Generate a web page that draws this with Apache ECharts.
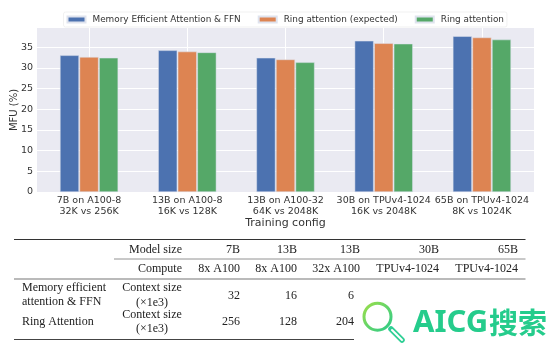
<!DOCTYPE html>
<html>
<head>
<meta charset="utf-8">
<style>
html, body { margin: 0; padding: 0; background: #fff; }
#container { width: 554px; height: 355px; }
</style>
<script src="https://cdn.jsdelivr.net/npm/echarts@6/dist/echarts.min.js"></script>
</head>
<body>
<div id="container"></div>
<script>
let chart = echarts.init(document.getElementById('container'), null, {renderer: 'canvas'});

// chart data
var configs = ['7B on A100-8\n32K vs 256K', '13B on A100-8\n16K vs 128K', '13B on A100-32\n64K vs 2048K',
    '30B on TPUv4-1024\n16K vs 2048K', '65B on TPUv4-1024\n8K vs 1024K'];
var memoryEfficient = [33.0, 34.2, 32.4, 36.5, 37.6];
var ringExpected = [32.6, 33.9, 32.0, 35.9, 37.3];
var ringAttention = [32.4, 33.7, 31.3, 35.8, 36.8];
var yTicks = [0, 5, 10, 15, 20, 25, 30, 35];

// table under the chart
var modelSizes = ['7B', '13B', '13B', '30B', '65B'];
var computes = ['8x A100', '8x A100', '32x A100', 'TPUv4-1024', 'TPUv4-1024'];
var contextMemory = ['32', '16', '6'];
var contextRing = ['256', '128', '204'];

var sansFont = '"DejaVu Sans", sans-serif';
var serifFont = '"Liberation Serif", serif';
var textColor = '#333';
var columnRight = [240, 297, 360, 439, 518];

function withIndex(values) {
    return values.map((v, i) => [i, v]);
}

function makeSeries(name, values, color) {
    return {
        type: 'bar',
        name: name,
        data: withIndex(values),
        barWidth: 19,
        barGap: '3%',
        animation: false,
        itemStyle: {color: color, borderColor: '#dfe3ee', borderWidth: 0.5},
    };
}

function cell(text, x, y, align) {
    return {
        type: 'text',
        x: x,
        y: y,
        style: {
            text: text,
            align: align || 'right',
            verticalAlign: 'middle',
            fontFamily: serifFont,
            fontSize: 12,
            fill: '#222',
        },
    };
}

function rule(x1, x2, y, width, color) {
    return {
        type: 'line',
        shape: {x1: x1, y1: y, x2: x2, y2: y},
        style: {stroke: color, lineWidth: width},
    };
}

function tableGraphics() {
    var items = [
        rule(14, 525.5, 239.5, 1.2, '#333'),
        rule(114, 525.5, 259, 0.8, '#777'),
        rule(14, 525.5, 279, 1.2, '#777'),
        rule(14, 354, 339.5, 1.2, '#444'),
        cell('Model size', 182, 249.5),
        cell('Compute', 182, 268.7),
        cell('Memory efficient', 22, 288, 'left'),
        cell('attention & FFN', 22, 301.7, 'left'),
        cell('Ring Attention', 22, 322.3, 'left'),
        cell('Context size', 152, 288, 'center'),
        cell('(×1e3)', 152, 302.7, 'center'),
        cell('Context size', 152, 315, 'center'),
        cell('(×1e3)', 152, 329, 'center'),
    ];
    modelSizes.forEach((t, i) => items.push(cell(t, columnRight[i], 249.5)));
    computes.forEach((t, i) => items.push(cell(t, columnRight[i], 268.7)));
    contextMemory.forEach((t, i) => items.push(cell(t, columnRight[i] - (i == 2 ? 6 : 0), 295.7)));
    contextRing.forEach((t, i) => items.push(cell(t, columnRight[i] - (i == 2 ? 6 : 0), 322)));
    return items;
}

// watermark at the bottom right
function logoGraphics() {
    var ringFill = new echarts.graphic.LinearGradient(0, 0, 1, 1, [
        {offset: 0, color: '#a5e045'},
        {offset: 1, color: '#22c98e'},
    ]);
    return [
        {type: 'circle', shape: {cx: 377.5, cy: 316.7, r: 13.5},
            style: {fill: 'none', stroke: ringFill, lineWidth: 3}},
        {type: 'line', shape: {x1: 391, y1: 329, x2: 402, y2: 340},
            style: {stroke: '#2fcf95', lineWidth: 5.5, lineCap: 'round'}},
        {type: 'line', shape: {x1: 392, y1: 330, x2: 402, y2: 340},
            style: {stroke: '#fff', lineWidth: 2, lineCap: 'round'}},
        {type: 'text', x: 413, y: 323.5, style: {text: 'AICG', verticalAlign: 'middle',
            fontFamily: '"Noto Sans", sans-serif', fontWeight: 'bold', fontSize: 31, fill: '#25cc8c'}},
        {type: 'text', x: 489, y: 322.5, style: {text: '搜索', verticalAlign: 'middle',
            fontFamily: '"Noto Sans CJK SC", sans-serif', fontWeight: 'bold', fontSize: 29, fill: '#25cc8c'}},
    ];
}

var categoryTicks = configs.map((c, i) => i);

var option = {
    backgroundColor: '#fff',
    animation: false,
    legend: {
        left: 63.5,
        top: 12,
        padding: [3, 3, 3, 3],
        itemWidth: 18,
        itemHeight: 6,
        itemGap: 17,
        backgroundColor: '#fff',
        borderColor: '#eee',
        borderWidth: 0.8,
        borderRadius: 2,
        icon: 'rect',
        textStyle: {
            fontFamily: sansFont,
            fontSize: 8.9,
            color: textColor,
            padding: [0, 0, 0, 2],
        },
    },
    grid: {
        left: 37,
        right: 20,
        top: 28,
        bottom: 163,
        outerBoundsMode: 'none',
        show: true,
        backgroundColor: '#eaeaf2',
        borderWidth: 0,
    },
    xAxis: {
        type: 'value',
        min: -0.53,
        max: 4.53,
        name: 'Training config',
        nameLocation: 'middle',
        nameGap: 26,
        nameTextStyle: {fontFamily: sansFont, fontSize: 11, color: textColor},
        axisLine: {show: false},
        axisTick: {show: false, customValues: categoryTicks},
        splitLine: {show: true, lineStyle: {color: '#fff', width: 1}},
        axisLabel: {
            customValues: categoryTicks,
            formatter: v => configs[v],
            fontFamily: sansFont,
            fontSize: 9.5,
            lineHeight: 11,
            color: textColor,
            margin: 3,
            hideOverlap: false,
            showMinLabel: true,
            showMaxLabel: true,
        },
    },
    yAxis: {
        type: 'value',
        min: 0,
        max: 39.6,
        name: 'MFU (%)',
        nameLocation: 'middle',
        nameGap: 18,
        nameMoveOverlap: false,
        nameTextStyle: {fontFamily: sansFont, fontSize: 10, color: textColor},
        axisLine: {show: false},
        axisTick: {show: false, customValues: yTicks},
        splitLine: {show: true, lineStyle: {color: '#fff', width: 1}},
        axisLabel: {
            customValues: yTicks,
            fontFamily: sansFont,
            fontSize: 9.5,
            color: textColor,
            margin: 4,
        },
    },
    series: [
        makeSeries('Memory Efficient Attention & FFN', memoryEfficient, '#4c72b0'),
        makeSeries('Ring attention (expected)', ringExpected, '#dd8452'),
        makeSeries('Ring attention', ringAttention, '#55a868'),
    ],
    graphic: {elements: tableGraphics().concat(logoGraphics())},
};

chart.setOption(option);
</script>
</body>
</html>
